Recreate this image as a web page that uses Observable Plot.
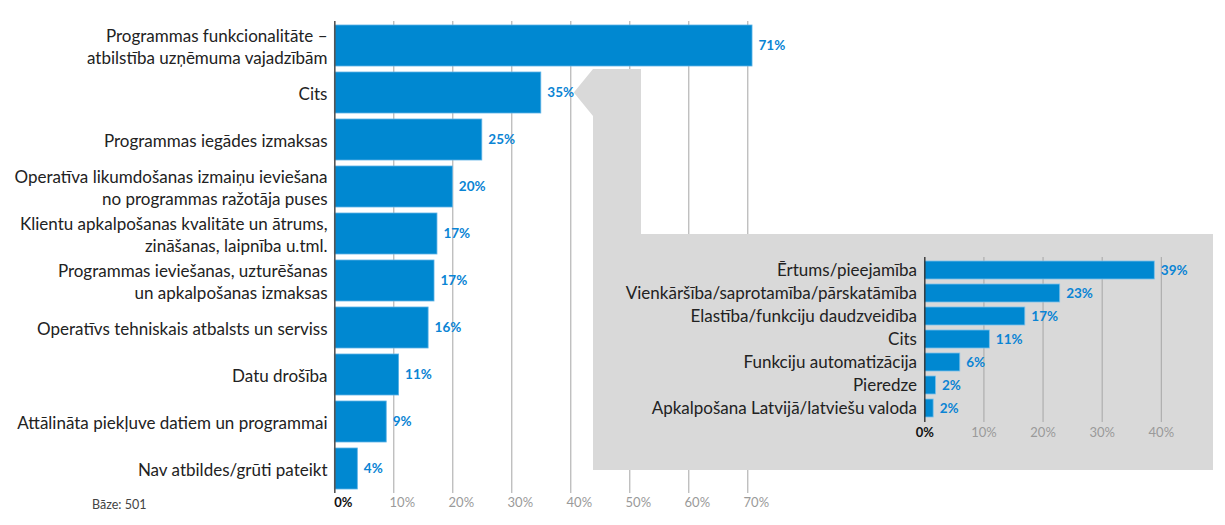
<!DOCTYPE html>
<html>
<head>
<meta charset="utf-8">
<script src="https://cdn.jsdelivr.net/npm/d3@7"></script>
<script src="https://cdn.jsdelivr.net/npm/@observablehq/plot@0.6"></script>
<style>
  html, body { margin: 0; padding: 0; background: #fff; }
  #wrap { position: relative; width: 1225px; height: 525px; overflow: hidden; font-family: Lato, "Noto Sans", sans-serif; }
  #wrap svg { position: absolute; left: 0; top: 0; overflow: visible; }
  #base { position: absolute; left: 92px; top: 497px; font-size: 12.5px; color: #444; }
</style>
</head>
<body>
<div id="wrap"><div id="base">Bāze: 501</div></div>
<script>
// ---- main chart data ----
const categories = [
  "Programmas funkcionalitāte –\natbilstība uzņēmuma vajadzībām",
  "Cits",
  "Programmas iegādes izmaksas",
  "Operatīva likumdošanas izmaiņu ieviešana\nno programmas ražotāja puses",
  "Klientu apkalpošanas kvalitāte un ātrums,\nzināšanas, laipnība u.tml.",
  "Programmas ieviešanas, uzturēšanas\nun apkalpošanas izmaksas",
  "Operatīvs tehniskais atbalsts un serviss",
  "Datu drošība",
  "Attālināta piekļuve datiem un programmai",
  "Nav atbildes/grūti pateikt"
];
const values = [70.8, 35.0, 25.0, 20.0, 17.4, 16.9, 15.9, 10.9, 8.8, 3.9];
const valueLabels = ["71%", "35%", "25%", "20%", "17%", "17%", "16%", "11%", "9%", "4%"];
const mainTicks = [0, 10, 20, 30, 40, 50, 60, 70];
const mainTickLabels = ["0%", "10%", "20%", "30%", "40%", "50%", "60%", "70%"];

// ---- inset chart data ----
const insetCategories = [
  "Ērtums/pieejamība",
  "Vienkāršība/saprotamība/pārskatāmība",
  "Elastība/funkciju daudzveidība",
  "Cits",
  "Funkciju automatizācija",
  "Pieredze",
  "Apkalpošana Latvijā/latviešu valoda"
];
const insetValues = [38.9, 22.9, 17.0, 11.0, 6.0, 1.9, 1.5];
const insetLabels = ["39%", "23%", "17%", "11%", "6%", "2%", "2%"];
const insetTicks = [0, 10, 20, 30, 40];
const insetTickLabels = ["0%", "10%", "20%", "30%", "40%"];

const BLUE = "#0088d1";
const LABEL_BLUE = "#0a84d4";
const GRAY_BG = "#d9d9d9";
const FONT = "Lato, 'Noto Sans', sans-serif";

const mainData = categories.map((c, i) => ({cat: c, value: values[i], label: valueLabels[i]}));
const mainTickData = mainTicks.map((t, i) => ({t, label: mainTickLabels[i]}));
const insetData = insetCategories.map((c, i) => ({cat: c, value: insetValues[i], label: insetLabels[i]}));
const insetTickData = insetTicks.map((t, i) => ({t, label: insetTickLabels[i]}));

// inset panel box (layout)
const box = {left: 593, top: 234, right: 1213, bottom: 470};

// custom mark: grey panel with connector pointing at the "Cits" bar
function panelMark(index, scales, values, dimensions) {
  const x = scales.x, y = scales.y;
  const bw = y.bandwidth ? y.bandwidth() : 41;
  const step = y.step ? y.step() : 47;
  const cy = y("Cits") + bw / 2;
  const tipX = x(35) + 33;
  const half = step / 2;
  const neckRight = box.left + 48;
  const pts = [
    [box.left, cy - half],
    [tipX, cy],
    [box.left, cy + half],
    [box.left, box.bottom],
    [box.right, box.bottom],
    [box.right, box.top],
    [neckRight, box.top],
    [neckRight, cy - half]
  ];
  const p = document.createElementNS("http://www.w3.org/2000/svg", "path");
  p.setAttribute("d", "M" + pts.map(d => d.join(",")).join("L") + "Z");
  p.setAttribute("fill", GRAY_BG);
  return p;
}

const main = Plot.plot({
  width: 1225,
  height: 525,
  marginLeft: 334,
  marginRight: 100,
  marginTop: 21,
  marginBottom: 32,
  x: {domain: [0, 70], range: [334.3, 747.3], axis: null},
  y: {domain: categories, range: [21, 493], paddingInner: 0.12, paddingOuter: 0.055, axis: null},
  style: {fontFamily: FONT, background: "transparent", overflow: "visible"},
  marks: [
    Plot.ruleX(mainTicks.slice(1), {stroke: "#a6a6a6", strokeWidth: 1}),
    panelMark,
    Plot.barX(mainData, {x: "value", y: "cat", fill: BLUE, stroke: "#5cb2e6", strokeWidth: 0.8}),
    Plot.ruleX([0], {stroke: "#555", strokeWidth: 1.6}),
    Plot.text(mainData, {x: "value", y: "cat", text: "label", dx: 6, textAnchor: "start",
      fill: LABEL_BLUE, fontWeight: "bold", fontSize: 13.5}),
    Plot.text(mainData, {y: "cat", text: "cat", frameAnchor: "left", textAnchor: "end", dx: -7,
      fontSize: 17, lineHeight: 1.28, fill: "#222"}),
    Plot.text(mainTickData.filter(d => d.t === 0), {x: "t", text: "label", frameAnchor: "bottom", dy: 13, dx: 8.5,
      fill: "#111", fontWeight: "bold", fontSize: 13}),
    Plot.text(mainTickData.filter(d => d.t !== 0), {x: "t", text: "label", frameAnchor: "bottom", dy: 13, dx: 8.5,
      fill: "#9a9a9a", fontSize: 13})
  ]
});

const inset = Plot.plot({
  width: box.right - box.left,
  height: box.bottom - box.top,
  marginLeft: 331,
  marginRight: 10,
  marginTop: 23,
  marginBottom: 48,
  x: {domain: [0, 40], range: [331.3, 567.8], axis: null},
  y: {domain: insetCategories, range: [23.3, 187.7], paddingInner: 0.21, paddingOuter: 0.074, axis: null},
  style: {fontFamily: FONT, background: "transparent", overflow: "visible"},
  marks: [
    Plot.ruleX(insetTicks.slice(1), {stroke: "#a6a6a6", strokeWidth: 1}),
    Plot.barX(insetData, {x: "value", y: "cat", fill: BLUE, stroke: "#7cc0ea", strokeWidth: 0.8}),
    Plot.ruleX([0], {stroke: "#333", strokeWidth: 1.4}),
    Plot.text(insetData, {x: "value", y: "cat", text: "label", dx: 6, textAnchor: "start",
      fill: LABEL_BLUE, fontWeight: "bold", fontSize: 13.5}),
    Plot.text(insetData, {y: "cat", text: "cat", frameAnchor: "left", textAnchor: "end", dx: -7.5,
      fontSize: 17, fill: "#222"}),
    Plot.text(insetTickData.filter(d => d.t === 0), {x: "t", text: "label", frameAnchor: "bottom", dy: 14,
      fill: "#111", fontWeight: "bold", fontSize: 13}),
    Plot.text(insetTickData.filter(d => d.t !== 0), {x: "t", text: "label", frameAnchor: "bottom", dy: 14,
      fill: "#9a9a9a", fontSize: 13})
  ]
});
inset.style.left = box.left + "px";
inset.style.top = box.top + "px";

const wrap = document.getElementById("wrap");
wrap.insertBefore(main, wrap.firstChild);
wrap.appendChild(inset);
</script>
</body>
</html>
